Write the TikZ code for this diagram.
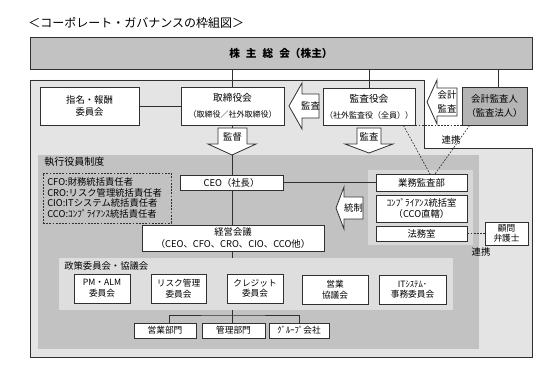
\documentclass[tikz,border=0pt]{standalone}
\usepackage{fontspec}
\setmainfont{Noto Sans CJK JP}
\definecolor{outerbg}{HTML}{E4E4E4}
\definecolor{execbg}{HTML}{C2C2C2}
\definecolor{topbg}{HTML}{C2C2C2}
\definecolor{polbg}{HTML}{DEDEDE}
\definecolor{audbg}{HTML}{D8D8D8}
\definecolor{kaikeibg}{HTML}{B4B4B4}
\definecolor{edge}{HTML}{303030}
\newdimen\pxu \pxu=0.75pt
\begin{document}
\begin{tikzpicture}[x=0.75pt,y=-0.75pt,
  font=\fontsize{7}{9}\selectfont,
  rect/.style n args={4}{minimum width={(#3-#1)*0.75pt}, minimum height={(#4-#2)*0.75pt}, at={({(#1+#3)/2},{(#2+#4)/2})}},
  box/.style={draw=edge, line width=0.6pt, fill=white, inner sep=0pt, align=center},
  region/.style={draw=none, inner sep=0pt},
  conn/.style={draw=edge, line width=0.6pt},
  dotline/.style={draw=edge, line width=0.5pt, dash pattern=on 1.3pt off 1.1pt},
  bigarrow/.style={draw=edge, fill=white, line width=0.6pt, line join=miter},
  cmt/.style={box, font=\fontsize{6.5}{8}\selectfont},
  lbl/.style={inner sep=0pt}]
\useasboundingbox (0,0) rectangle (553,370);
\fill[white] (0,0) rectangle (553,370);

% title
\node[lbl, anchor=west, font=\fontsize{9}{10}\selectfont] (title) at (28,23) {＜コーポレート・ガバナンスの枠組図＞};

% shareholders meeting
\node[box, fill=topbg, rect={30}{37}{532}{69}, font=\fontsize{8}{10}\selectfont\bfseries] (soukai) {株\hspace{4.5pt}主\hspace{4.5pt}総\hspace{4.5pt}会（株主）};

% outer region
\draw[draw=edge, fill=outerbg, line width=0.7pt] (30,80) -- (424,80) -- (424,148) -- (532,148) -- (532,357) -- (30,357) -- cycle;

% executive officer region
\node[region, fill=execbg, rect={38}{155}{479}{349}] (exec) {};
\node[lbl, anchor=west, font=\fontsize{7.5}{9}\selectfont] (execlbl) at (44,162) {執行役員制度};

% audit group region
\node[region, fill=audbg, rect={368}{170}{473}{245}] (audgrp) {};

% policy committee region
\node[region, fill=polbg, rect={59}{258}{453}{310}] (pol) {};
\node[lbl, anchor=west] (pollbl) at (64,266) {政策委員会・協議会};

% top row boxes
\node[box, rect={40}{87}{139}{125}, font=\fontsize{7}{9.5}\selectfont] (nom) {指名・報酬\\委員会};
\node[box, rect={181}{87}{284}{125}] (tori) {\fontsize{7.3}{9}\selectfont 取締役会\\[3pt]{\fontsize{6}{7}\selectfont（取締役／社外取締役）}};
\node[box, rect={323}{88}{415}{125}] (kansa) {\fontsize{7.3}{9}\selectfont 監査役会\\[3pt]{\fontsize{6}{7}\selectfont（社外監査役（全員））}};
\node[box, fill=kaikeibg, rect={462}{87}{527}{125}, font=\fontsize{7}{11}\selectfont] (kaikei) {会計監査人\\（監査法人）};

% CxO list
\node[region, draw=edge, dotline, rect={43}{173}{171}{223}] (cxo) {};
\node[lbl, anchor=west, align=left, font=\fontsize{7}{7.9}\selectfont] (cxotext) at (47,198) {CFO:財務統括責任者\\CRO:リスク管理統括責任者\\CIO:ITシステム統括責任者\\CCO:ｺﾝﾌﾟﾗｲｱﾝｽ統括責任者};

% CEO and management meeting
\node[box, rect={180}{175}{283}{190}] (ceo) {CEO（社長）};
\node[box, rect={142}{225}{324}{251}, font=\fontsize{7}{8.5}\selectfont] (keiei) {経営会議\\（CEO、CFO、CRO、CIO、CCO他）};

% audit group boxes
\node[box, rect={376}{174}{467}{191}] (gyomu) {業務監査部};
\node[box, rect={376}{195}{467}{222}, font=\fontsize{7}{8.5}\selectfont] (comp) {ｺﾝﾌﾟﾗｲｱﾝｽ統括室\\（CCO直轄）};
\node[box, rect={376}{226}{467}{241}] (houmu) {法務室};
\node[box, rect={485}{222}{528}{245}, font=\fontsize{6.5}{8}\selectfont] (komon) {顧問\\弁護士};

% committees
\node[cmt, rect={74}{274}{130}{303}] (pm) {PM・ALM\\委員会};
\node[cmt, rect={151}{274}{206}{303}] (risk) {リスク管理\\委員会};
\node[cmt, rect={227}{274}{283}{303}] (cred) {クレジット\\委員会};
\node[cmt, rect={302}{275}{368}{304}] (eigyo) {営業\\協議会};
\node[cmt, rect={379}{275}{446}{304}] (itsys) {ITｼｽﾃﾑ･\\事務委員会};

% departments
\node[cmt, rect={134}{323}{196}{338}] (eb) {営業部門};
\node[cmt, rect={202}{323}{265}{338}] (kb) {管理部門};
\node[cmt, rect={269}{323}{329}{338}] (gb) {ｸﾞﾙｰﾌﾟ会社};

% connectors
\draw[conn] (tori.north) -- (tori.north |- soukai.south);
\draw[conn] (kansa.north) -- (kansa.north |- soukai.south);
\draw[conn] ([xshift=3.5\pxu]kaikei.north) -- ([xshift=3.5\pxu]kaikei.north |- soukai.south);
\draw[conn] (nom.east) -- (tori.west);
\draw[conn] (tori.south) -- (tori.south |- ceo.north);
\draw[conn] (tori.south |- ceo.south) -- (tori.south |- keiei.north);
\draw[conn] (tori.south |- keiei.south) -- (tori.south |- pol.north);
\draw[conn] (ceo.east) -- (gyomu.west);
\coordinate (bus) at (232,315);
\draw[conn] (tori.south |- pol.south) -- (tori.south |- kb.north);
\draw[conn] ([xshift=4\pxu]eb.north) |- (bus) -| (gb.north);

% dashed links
\draw[dotline] (kansa.south east) -- (kaikei.south west);
\coordinate (djoinL) at (430,174);
\coordinate (djoinR) at (435,174);
\draw[dotline] ([xshift=-12\pxu]kansa.south east) -- (djoinL);
\draw[dotline] ([xshift=8\pxu]kaikei.south west) -- (djoinR);
\draw[dotline] (houmu.east) -- (houmu.east -| komon.west);
\node[lbl] (renkei1) at (451,140) {連携};
\node[lbl] (renkei2) at (481,252) {連携};

% big arrows
\draw[bigarrow] (289,106) -- (302,83) -- (302,94) -- (319,94) -- (319,118) -- (302,118) -- (302,129) -- cycle;
\node[lbl] (a1) at (310.5,106) {監査};
\draw[bigarrow] (218,128) -- (247,128) -- (247,144) -- (256,144) -- (232,155) -- (208,144) -- (218,144) -- cycle;
\node[lbl] (a2) at (232.5,136.5) {監督};
\draw[bigarrow] (357,128) -- (381,128) -- (381,144) -- (393,144) -- (369,153) -- (345,144) -- (357,144) -- cycle;
\node[lbl] (a3) at (369,136.5) {監査};
\draw[bigarrow] (427,102) -- (437,80) -- (437,88) -- (457,88) -- (457,116) -- (437,116) -- (437,124) -- cycle;
\node[lbl, align=center, font=\fontsize{7}{10}\selectfont] (a4) at (447,102) {会計\\監査};
\draw[bigarrow] (336,208) -- (344,187) -- (344,197) -- (363,197) -- (363,219) -- (344,219) -- (344,229) -- cycle;
\node[lbl] (a5) at (353.5,208) {統制};
\end{tikzpicture}
\end{document}
